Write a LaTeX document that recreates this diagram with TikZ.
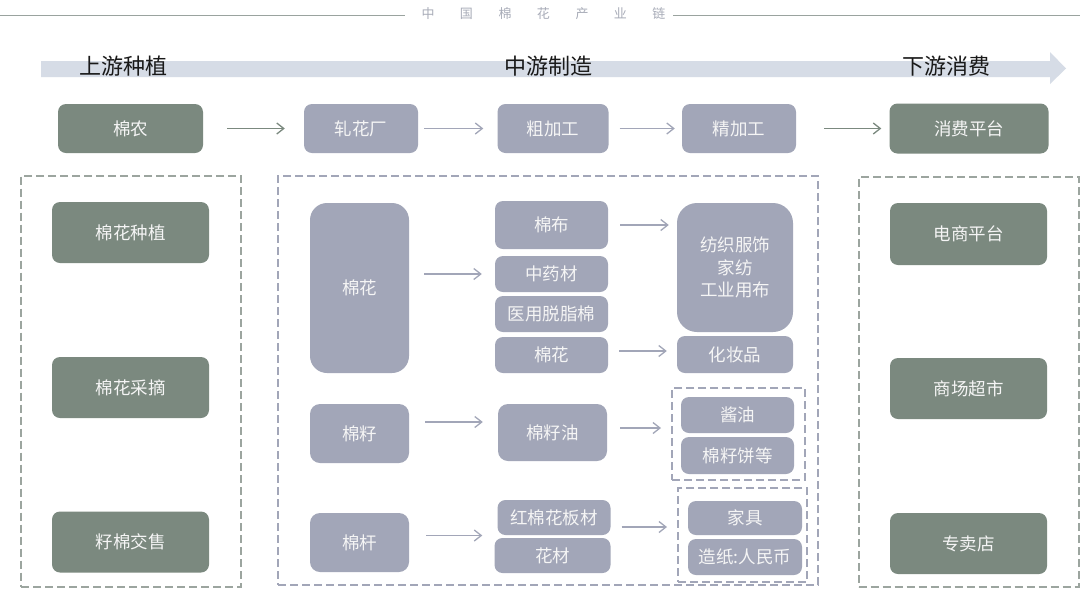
\documentclass[tikz,border=0pt]{standalone}
\usepackage{fontspec}
\setmainfont{Noto Sans CJK SC}
\usetikzlibrary{arrows.meta}
\definecolor{gboxc}{HTML}{7B897F}
\definecolor{pboxc}{HTML}{A2A6B8}
\definecolor{gdashc}{HTML}{9CA59F}
\definecolor{barc}{HTML}{D6DCE6}
\definecolor{ttlc}{HTML}{A8ACB8}
\definecolor{linec}{HTML}{9AA39F}
\begin{document}
\begin{tikzpicture}[x=1pt,y=-1pt,
  box/.style={rounded corners=8pt, inner sep=0pt, text=white!96!black, font=\fontsize{17.5}{22.5}\selectfont, align=center},
  gb/.style={box, fill=gboxc},
  pb/.style={box, fill=pboxc},
  dbox/.style={draw, dash pattern=on 8pt off 4pt, line width=2pt, inner sep=0pt},
  arr/.style={-{Straight Barb[length=7pt,width=11pt]}, line width=1.3pt},
  head/.style={font=\fontsize{22}{26}\selectfont, text=black!90, inner sep=0pt}]
\useasboundingbox (0,0) rectangle (1080,590);
\fill[white] (0,0) rectangle (1080,590);

% top title
\node[font=\fontsize{13}{15}\selectfont, text=ttlc, inner sep=0pt] (title) at (543.5,14)
  {中\hspace{25.5pt}国\hspace{25.5pt}棉\hspace{25.5pt}花\hspace{25.5pt}产\hspace{25.5pt}业\hspace{25.5pt}链};
\draw[linec, line width=1pt] (0,15) -- (405,15);
\draw[linec, line width=1pt] (673,15) -- (1080,15);

% big arrow bar
\fill[barc] (41,61) -- (1050,61) -- (1050,52) -- (1066,68.5) -- (1050,84) -- (1050,77) -- (41,77) -- cycle;
\node[head] (h1) at (123,66) {上游种植};
\node[head] (h2) at (548,66) {中游制造};
\node[head] (h3) at (946,66) {下游消费};

% row 1
\node[gb, minimum width=145pt, minimum height=49pt] (mn) at (130.5,128.5) {棉农};
\node[pb, minimum width=114pt, minimum height=49pt] (zhc) at (361,128.5) {轧花厂};
\node[pb, minimum width=111pt, minimum height=49pt] (cjg) at (553,128.5) {粗加工};
\node[pb, minimum width=114pt, minimum height=49pt] (jjg) at (739,128.5) {精加工};
\node[gb, minimum width=159pt, minimum height=50pt] (xfpt) at (969,128.5) {消费平台};

\draw[arr, gboxc, shorten <=24pt, shorten >=19pt] (mn) -- (zhc);
\draw[arr, pboxc, shorten <=6pt, shorten >=14pt] (zhc) -- (cjg);
\draw[arr, pboxc, shorten <=11pt, shorten >=7pt] (cjg) -- (jjg);
\draw[arr, gboxc, shorten <=28pt, shorten >=8pt] (jjg) -- (xfpt);

% left column
\node[dbox, draw=gdashc, minimum width=220pt, minimum height=411pt] (L) at (131,381) {};
\node[gb, minimum width=157pt, minimum height=61pt] (l1) at (130.5,232.5) {棉花种植};
\node[gb, minimum width=157pt, minimum height=61pt] (l2) at (130.5,387.5) {棉花采摘};
\node[gb, minimum width=157pt, minimum height=61pt] (l3) at (130.5,542) {籽棉交售};

% right column
\node[dbox, draw=gdashc, minimum width=220pt, minimum height=410pt] (R) at (968.5,382) {};
\node[gb, minimum width=157pt, minimum height=62pt] (r1) at (968.5,234) {电商平台};
\node[gb, minimum width=157pt, minimum height=61pt] (r2) at (968.5,388.5) {商场超市};
\node[gb, minimum width=157pt, minimum height=61pt] (r3) at (968.5,543.5) {专卖店};

% middle
\node[dbox, draw=pboxc, minimum width=540pt, minimum height=409pt] (M) at (548,380.5) {};

\node[pb, rounded corners=17pt, minimum width=99pt, minimum height=170pt] (mh) at (359.5,288) {棉花};
\node[pb, minimum width=113pt, minimum height=48pt] (mb) at (551.5,225) {棉布};
\node[pb, minimum width=113pt, minimum height=36pt] (zyc) at (551.5,274) {中药材};
\node[pb, minimum width=113pt, minimum height=36pt] (yy) at (551.5,314) {医用脱脂棉};
\node[pb, minimum width=113pt, minimum height=36pt] (mhs) at (551.5,355) {棉花};
\node[pb, rounded corners=20pt, minimum width=116pt, minimum height=129pt] (fz) at (735,267.5) {纺织服饰\\家纺\\工业用布};
\node[pb, minimum width=116pt, minimum height=37pt] (hzp) at (735,354.5) {化妆品};

\node[pb, rounded corners=10pt, minimum width=99pt, minimum height=59pt] (mz) at (359.5,433.5) {棉籽};
\node[pb, rounded corners=10pt, minimum width=109pt, minimum height=57pt] (mzy) at (552.5,432.5) {棉籽油};
\node[dbox, draw=pboxc, minimum width=133pt, minimum height=92pt] (ib1) at (738.5,434) {};
\node[pb, minimum width=113pt, minimum height=36pt] (jy) at (737.5,415) {酱油};
\node[pb, minimum width=113pt, minimum height=37pt] (mzb) at (737.5,455.5) {棉籽饼等};

\node[pb, rounded corners=10pt, minimum width=99pt, minimum height=59pt] (mg) at (359.5,542.5) {棉杆};
\node[pb, minimum width=113pt, minimum height=35pt] (hmb) at (554,517.5) {红棉花板材};
\node[pb, minimum width=116pt, minimum height=35pt] (hc) at (552.5,555.5) {花材};
\node[dbox, draw=pboxc, minimum width=129pt, minimum height=94pt] (ib2) at (742.5,535) {};
\node[pb, minimum width=114pt, minimum height=34pt] (jj) at (745,518) {家具};
\node[pb, minimum width=114pt, minimum height=36pt] (zz) at (745,557) {造纸:人民币};

\coordinate (y7) at (0,351);
\coordinate (y8) at (0,422);
\coordinate (y9) at (0,428);
\coordinate (y10) at (0,535.5);
\coordinate (y11) at (0,527);

\draw[arr, pboxc, shorten <=15pt, shorten >=13pt] (mh.east |- zyc) -- (zyc.west);
\draw[arr, pboxc, shorten <=12pt, shorten >=8pt] (mb.east) -- (mb.east -| fz.west);
\draw[arr, pboxc, shorten <=11pt, shorten >=10pt] (mhs.east |- y7) -- (hzp.west |- y7);
\draw[arr, pboxc, shorten <=16pt, shorten >=15pt] (mz.east |- y8) -- (mzy.west |- y8);
\draw[arr, pboxc, shorten <=13pt, shorten >=10pt] (mzy.east |- y9) -- (ib1.west |- y9);
\draw[arr, pboxc, shorten <=17pt, shorten >=15pt] (mg.east |- y10) -- (hmb.west |- y10);
\draw[arr, pboxc, shorten <=11pt, shorten >=10pt] (hmb.east |- y11) -- (ib2.west |- y11);
\end{tikzpicture}
\end{document}
